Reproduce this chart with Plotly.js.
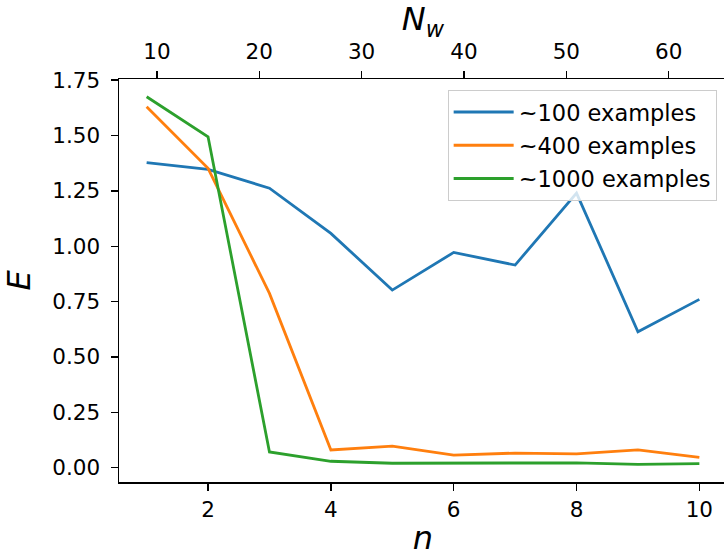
<!DOCTYPE html>
<html>
<head>
<meta charset="utf-8">
<script src="https://cdn.plot.ly/plotly-3.0.1.min.js"></script>
<style>
html,body{margin:0;padding:0;overflow:hidden;background:#fff;}
#chart{width:728px;height:557px;}
</style>
</head>
<body>
<div id="chart"></div>
<script>
// Data
const n = [1, 2, 3, 4, 5, 6, 7, 8, 9, 10];
const e100 = [1.377, 1.347, 1.262, 1.058, 0.802, 0.972, 0.915, 1.240, 0.614, 0.760];
const e400 = [1.630, 1.352, 0.787, 0.080, 0.097, 0.057, 0.066, 0.062, 0.080, 0.047];
const e1000 = [1.675, 1.494, 0.071, 0.029, 0.020, 0.020, 0.020, 0.022, 0.015, 0.018];
const seriesNames = ["~100 examples", "~400 examples", "~1000 examples"];
const colors = ["#1f77b4", "#ff7f0e", "#2ca02c"];
const xTicks = [2, 4, 6, 8, 10];
const yTicks = [0, 0.25, 0.5, 0.75, 1.0, 1.25, 1.5, 1.75];
const yTickLabels = ["0.00", "0.25", "0.50", "0.75", "1.00", "1.25", "1.50", "1.75"];
const nwTicks = [10, 20, 30, 40, 50, 60];
// N_w = 6n + 3
const nw = n.map(v => 6 * v + 3);

const font = "DejaVu Sans, sans-serif";
const xRange = [0.55, 10.45];

const traces = [e100, e400, e1000].map((ys, i) => ({
  x: n, y: ys, type: "scatter", mode: "lines",
  name: seriesNames[i], legendgroup: "g" + i,
  line: {color: colors[i], width: 2.8}
}));
traces.push({
  x: nw, y: e1000, type: "scatter", mode: "lines", xaxis: "x2",
  opacity: 0, showlegend: false, hoverinfo: "skip",
  line: {color: "rgba(0,0,0,0)", width: 0}
});

const axisCommon = {
  showgrid: false, zeroline: false, showline: true, linecolor: "#000", linewidth: 1.5,
  ticks: "outside", ticklen: 7, tickwidth: 1.4, tickcolor: "#000",
  tickfont: {family: font, size: 21.5, color: "#000"}
};

const layout = {
  width: 728, height: 557,
  margin: {l: 119, r: 1, t: 79, b: 75},
  paper_bgcolor: "#fff", plot_bgcolor: "#fff",
  font: {family: font, color: "#000"},
  showlegend: true,
  legend: {
    x: 0.983, xanchor: "right", y: 0.973, yanchor: "top",
    bgcolor: "rgba(255,255,255,0.8)", bordercolor: "#cccccc", borderwidth: 1,
    font: {family: font, size: 22.5, color: "#000"},
    tracegroupgap: 1, itemwidth: 60
  },
  xaxis: Object.assign({}, axisCommon, {
    range: xRange, tickmode: "array", tickvals: xTicks, ticktext: xTicks.map(String),
    mirror: true, ticklabelstandoff: 1,
    title: {text: "<i>n</i>", font: {family: font, size: 32, color: "#000"}, standoff: 10}
  }),
  xaxis2: Object.assign({}, axisCommon, {
    overlaying: "x", side: "top", anchor: "y",
    range: xRange.map(v => 6 * v + 3), tickmode: "array", tickvals: nwTicks, ticktext: nwTicks.map(String),
    ticklabelstandoff: 3,
    title: {text: "<i>N<sub>w</sub></i>", font: {family: font, size: 32, color: "#000"}, standoff: 4}
  }),
  yaxis: Object.assign({}, axisCommon, {
    range: [-0.0646, 1.755], tickmode: "array", tickvals: yTicks, ticktext: yTickLabels,
    mirror: true, ticklabelstandoff: 6,
    title: {text: "<i>E</i>", font: {family: font, size: 32, color: "#000"}, standoff: 14}
  })
};

Plotly.newPlot("chart", traces, layout, {displayModeBar: false, staticPlot: true});
</script>
</body>
</html>
